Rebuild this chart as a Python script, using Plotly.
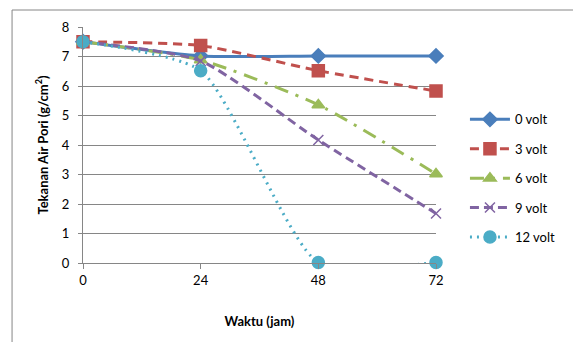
import plotly.graph_objects as go

waktu = [0, 24, 48, 72]
series_names = ["0 volt", "3 volt", "6 volt", "9 volt", "12 volt"]
v0 = [7.5, 7.02, 7.02, 7.02]
v3 = [7.5, 7.37, 6.52, 5.83]
v6 = [7.5, 6.88, 5.36, 3.02]
v9 = [7.5, 6.85, 4.17, 1.68]
v12 = [7.5, 6.52, 0.02, 0.02]
y_ticks = [0, 1, 2, 3, 4, 5, 6, 7, 8]

colors = ["#4A7EBB", "#C0504D", "#9BBB59", "#8064A2", "#4BACC6"]
dashes = ["solid", "9px,6px", "14px,8px,3px,8px", "9px,5px", "2px,5px"]
symbols = ["diamond", "square", "triangle-up", "x-thin", "circle"]
msizes = [11, 12, 11, 10, 12]

FONT = "Lato"

fig = go.Figure()
for i, (name, vals) in enumerate(zip(series_names, [v0, v3, v6, v9, v12])):
    fig.add_trace(go.Scatter(
        x=waktu, y=vals, name=name, mode="lines+markers",
        line=dict(color=colors[i], width=3, dash=dashes[i], shape="spline", smoothing=0.6),
        marker=dict(symbol=symbols[i], size=msizes[i], color=colors[i],
                    line=dict(color=colors[i], width=1.5)),
        legendgroup=name, cliponaxis=False,
    ))

fig.update_layout(
    width=573, height=342,
    margin=dict(l=83, r=137, t=27, b=79),
    paper_bgcolor="white", plot_bgcolor="white",
    font=dict(family=FONT, size=13, color="#000000"),
    showlegend=True,
    legend=dict(x=1.082, y=0.672, xanchor="left", yanchor="top",
                font=dict(family=FONT, size=13), tracegroupgap=9.5,
                itemwidth=40, bgcolor="rgba(0,0,0,0)"),
    xaxis=dict(range=[0, 72], tickvals=waktu, ticktext=[str(w) for w in waktu],
               showgrid=False, zeroline=False, showline=True, linecolor="#868686",
               linewidth=1, ticks="outside", ticklen=5, tickcolor="#868686",
               tickfont=dict(family=FONT, size=13), fixedrange=True,
               title=dict(text="<b>Waktu (jam)</b>", font=dict(family=FONT, size=13), standoff=30)),
    yaxis=dict(range=[0, 8], tickvals=y_ticks, showgrid=True, gridcolor="#868686",
               gridwidth=1, zeroline=False, showline=True, linecolor="#868686",
               linewidth=1, ticks="outside", ticklen=4, tickcolor="#868686",
               ticklabelstandoff=6,
               tickfont=dict(family=FONT, size=13), fixedrange=True,
               title=dict(text="<b>Tekanan Air Pori (g/cm<sup>2</sup>)</b>",
                          font=dict(family=FONT, size=13), standoff=10)),
)

# outer chart border (left and top visible)
fig.add_shape(type="line", xref="paper", yref="paper", x0=-0.201, x1=-0.201, y0=1.072, y1=-0.5,
              line=dict(color="#868686", width=1))
fig.add_shape(type="line", xref="paper", yref="paper", x0=-0.201, x1=1.5, y0=1.072, y1=1.072,
              line=dict(color="#868686", width=1))

fig.write_html("out.html")
